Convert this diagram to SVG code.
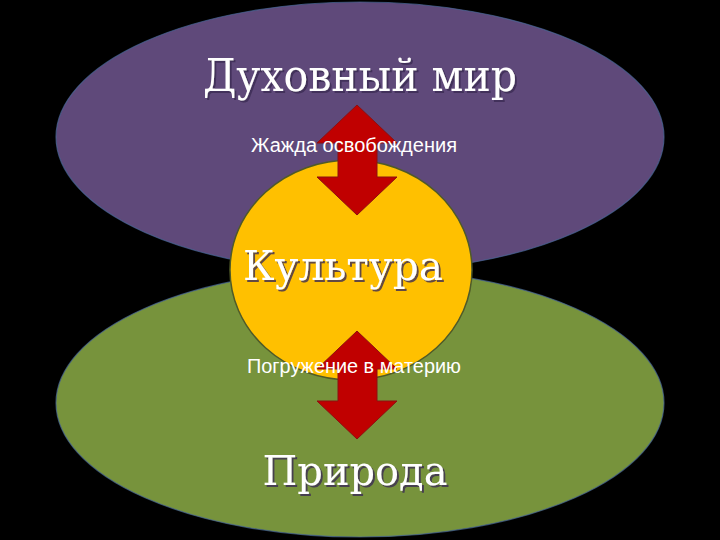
<svg xmlns="http://www.w3.org/2000/svg" width="720" height="540" viewBox="0 0 720 540">
  <defs>
    <filter id="shadow" x="-10%" y="-20%" width="130%" height="150%">
      <feDropShadow dx="2" dy="2" stdDeviation="0.6" flood-color="#3a2c55" flood-opacity="0.8"/>
    </filter>
    <style>
      .title { font-family: "DejaVu Serif", "Liberation Serif", serif; fill: #ffffff; text-anchor: middle; filter: url(#shadow); }
      .label { font-family: "Liberation Sans", Arial, sans-serif; fill: #ffffff; font-size: 20px; text-anchor: middle; }
      .arrow { fill: #c00000; stroke: #8c1010; stroke-width: 1; }
      .edge { stroke: #4a6a9a; stroke-width: 1.2; stroke-opacity: 0.7; }
    </style>
  </defs>
  <rect x="0" y="0" width="720" height="540" fill="#000000"/>

  <g id="spirit">
    <ellipse class="edge" cx="360" cy="137" rx="304" ry="135" fill="#5f497a"/>
  </g>
  <g id="nature">
    <ellipse class="edge" cx="360" cy="403" rx="304" ry="134" fill="#77933c"/>
  </g>
  <g id="culture">
    <ellipse cx="351" cy="270" rx="121" ry="110" fill="#ffc000" stroke="#4f5a28" stroke-width="1.5"/>
  </g>

  <g id="connectors">
    <polygon class="arrow" points="357,105 397,143 377,143 377,177 397,177 357,215 317,177 338,177 338,143 317,143"/>
    <polygon class="arrow" points="357,331 397,369 377,369 377,401 397,401 357,439 317,401 338,401 338,369 317,369"/>
  </g>

  <g id="label-spirit">
    <text class="title" x="360" y="91" font-size="45" textLength="314" lengthAdjust="spacingAndGlyphs">Духовный мир</text>
  </g>
  <g id="label-culture">
    <text class="title" x="343" y="280" font-size="41" textLength="200" lengthAdjust="spacingAndGlyphs">Культура</text>
  </g>
  <g id="label-nature">
    <text class="title" x="355" y="485" font-size="41" textLength="185" lengthAdjust="spacingAndGlyphs">Природа</text>
  </g>
  <g id="label-up">
    <text class="label" x="354" y="152" textLength="206" lengthAdjust="spacingAndGlyphs">Жажда освобождения</text>
  </g>
  <g id="label-down">
    <text class="label" x="354" y="373" textLength="214" lengthAdjust="spacingAndGlyphs">Погружение в материю</text>
  </g>
</svg>
